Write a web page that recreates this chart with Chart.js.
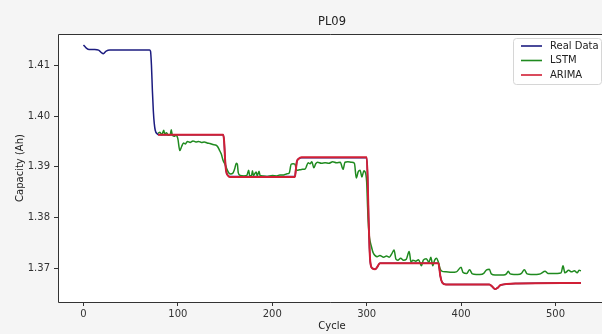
<!DOCTYPE html>
<html>
<head>
<meta charset="utf-8">
<script src="https://cdn.jsdelivr.net/npm/chart.js@4.4.1/dist/chart.umd.min.js"></script>
<style>
  html, body { margin: 0; padding: 0; background: #f5f5f5; overflow: hidden; }
  #wrap { width: 602px; height: 334px; }
</style>
</head>
<body>
<div id="wrap"><canvas id="grafico" width="602" height="334"></canvas></div>
<script>
// Real Data (capacidade medida)
const realCycles = [0, 3, 6, 12, 16, 19, 21, 24, 28, 40, 55, 70, 71, 72, 73, 74, 75, 76, 78, 80,
  148, 149, 150, 151, 153, 155, 224, 225, 226, 228, 231, 300, 301, 302, 303, 304, 306, 309, 311, 314,
  376, 377, 378, 380, 384, 430, 433, 436, 439, 442, 460, 527];
const realValues = [1.4140, 1.4134, 1.4131, 1.4131, 1.4130, 1.4125, 1.4123, 1.4128, 1.4130, 1.4130, 1.4130, 1.4130, 1.4128, 1.4100, 1.4050, 1.4010, 1.3985, 1.3972, 1.3965, 1.3963,
  1.3963, 1.3950, 1.3915, 1.3893, 1.3883, 1.3881, 1.3881, 1.3895, 1.3910, 1.3916, 1.3918, 1.3918, 1.3880, 1.3800, 1.3740, 1.3710, 1.3700, 1.3698, 1.3702, 1.3710,
  1.3710, 1.3700, 1.3685, 1.3672, 1.3668, 1.3668, 1.3664, 1.3659, 1.3662, 1.3667, 1.3670, 1.3671];

// LSTM
const lstmCycles = [79, 81, 83, 85, 86, 88, 90, 92, 93, 94, 96, 98, 100, 102, 104, 106, 108, 110, 113, 116,
  119, 122, 125, 128, 131, 134, 137, 140, 142, 144, 146, 148, 150, 152, 154, 156, 158, 160, 162, 163,
  164, 166, 170, 173, 175, 176, 178, 179, 180, 183, 184, 186, 187, 190, 195, 200, 205, 208, 212, 215,
  218, 220, 222, 224, 226, 229, 232, 235, 238, 240, 242, 244, 246, 248, 252, 256, 260, 264, 268, 272,
  275, 277, 280, 284, 287, 289, 291, 293, 295, 297, 298, 300, 301, 302, 303, 305, 307, 309, 311, 314,
  318, 321, 324, 327, 329, 331, 333, 336, 339, 342, 345, 347, 349, 352, 355, 358, 360, 363, 366, 368,
  370, 372, 374, 376, 378, 380, 384, 390, 395, 400, 402, 406, 409, 412, 416, 420, 424, 427, 430, 432,
  436, 440, 445, 448, 450, 452, 456, 460, 464, 467, 470, 474, 480, 484, 489, 492, 497, 502, 506, 508,
  510, 514, 517, 520, 523, 525, 527];
const lstmValues = [1.3966, 1.3968, 1.3963, 1.3972, 1.3965, 1.3967, 1.3962, 1.3964, 1.3973, 1.3963, 1.3960, 1.3962, 1.3955, 1.3932, 1.3940, 1.3947, 1.3945, 1.3950, 1.3948, 1.3951,
  1.3949, 1.3950, 1.3948, 1.3949, 1.3947, 1.3946, 1.3944, 1.3943, 1.3940, 1.3933, 1.3925, 1.3912, 1.3905, 1.3895, 1.3888, 1.3886, 1.3887, 1.3895, 1.3907, 1.3905,
  1.3888, 1.3883, 1.3882, 1.3883, 1.3893, 1.3883, 1.3882, 1.3892, 1.3883, 1.3890, 1.3882, 1.3891, 1.3883, 1.3882, 1.3881, 1.3883, 1.3882, 1.3884, 1.3884, 1.3886,
  1.3888, 1.3905, 1.3906, 1.3905, 1.3893, 1.3894, 1.3895, 1.3896, 1.3908, 1.3906, 1.3910, 1.3898, 1.3906, 1.3909, 1.3907, 1.3908, 1.3907, 1.3910, 1.3908, 1.3909,
  1.3895, 1.3909, 1.3910, 1.3909, 1.3907, 1.3878, 1.3890, 1.3893, 1.3880, 1.3892, 1.3891, 1.3870, 1.3820, 1.3780, 1.3760, 1.3743, 1.3730, 1.3725, 1.3723, 1.3725,
  1.3722, 1.3724, 1.3722, 1.3730, 1.3736, 1.3718, 1.3716, 1.3720, 1.3716, 1.3718, 1.3733, 1.3712, 1.3716, 1.3714, 1.3717, 1.3705, 1.3716, 1.3719, 1.3712, 1.3722,
  1.3705, 1.3716, 1.3720, 1.3712, 1.3698, 1.3694, 1.3693, 1.3692, 1.3693, 1.3702, 1.3692, 1.3690, 1.3697, 1.3689, 1.3688, 1.3688, 1.3690, 1.3697, 1.3698, 1.3689,
  1.3687, 1.3687, 1.3687, 1.3689, 1.3694, 1.3689, 1.3688, 1.3688, 1.3690, 1.3697, 1.3689, 1.3688, 1.3688, 1.3689, 1.3694, 1.3690, 1.3690, 1.3690, 1.3691, 1.3705,
  1.3691, 1.3696, 1.3693, 1.3695, 1.3691, 1.3696, 1.3695];

// ARIMA
const arimaCycles = [79, 148, 149, 150, 151, 153, 155, 224, 225, 226, 228, 231, 300, 301, 302, 303, 304, 306, 309, 311,
  314, 376, 377, 378, 380, 384, 430, 433, 436, 439, 442, 460, 527];
const arimaValues = [1.3963, 1.3963, 1.3950, 1.3915, 1.3893, 1.3883, 1.3880, 1.3880, 1.3895, 1.3910, 1.3916, 1.3919, 1.3919, 1.3880, 1.3800, 1.3740, 1.3710, 1.3700, 1.3698, 1.3702,
  1.3710, 1.3710, 1.3700, 1.3685, 1.3672, 1.3668, 1.3668, 1.3664, 1.3659, 1.3662, 1.3667, 1.3670, 1.3671];

const xTicks = [0, 100, 200, 300, 400, 500];
const yTicks = [1.37, 1.38, 1.39, 1.40, 1.41];
const seriesNames = ['Real Data', 'LSTM', 'ARIMA'];
const seriesColors = ['#1c1c80', '#1f8a1f', '#d11f35'];

const FONT = 'DejaVu Sans';

function pares(xs, ys) {
  return xs.map((x, i) => ({ x: x, y: ys[i] }));
}

// Fundo, bordas, título, rótulos e legenda desenhados à mão
const decoracao = {
  id: 'decoracao',
  beforeDraw(chart) {
    const { ctx, chartArea: a } = chart;
    ctx.save();
    ctx.fillStyle = '#f5f5f5';
    ctx.fillRect(0, 0, chart.width, chart.height);
    ctx.fillStyle = '#ffffff';
    ctx.fillRect(a.left, a.top, a.right - a.left, a.bottom - a.top);
    ctx.restore();
  },
  afterDraw(chart) {
    const { ctx, chartArea: a } = chart;
    ctx.save();
    // bordas
    ctx.strokeStyle = '#333333';
    ctx.lineWidth = 1;
    ctx.beginPath();
    ctx.moveTo(a.right, a.top + 0.5);
    ctx.lineTo(a.left + 0.5, a.top + 0.5);
    ctx.lineTo(a.left + 0.5, a.bottom + 0.5);
    ctx.lineTo(a.right, a.bottom + 0.5);
    ctx.stroke();

    // título
    ctx.fillStyle = '#222';
    ctx.font = '11.5px "' + FONT + '"';
    ctx.textAlign = 'center';
    ctx.textBaseline = 'middle';
    ctx.fillText('PL09', 332, 22);

    // rótulos dos eixos
    ctx.font = '10px "' + FONT + '"';
    ctx.fillText('Cycle', 332, 326);
    ctx.save();
    ctx.translate(20, 168);
    ctx.rotate(-Math.PI / 2);
    ctx.fillText('Capacity (Ah)', 0, 0);
    ctx.restore();

    // legenda
    const bx = 513, by = 38, bw = 88, bh = 46;
    ctx.fillStyle = 'rgba(255,255,255,0.85)';
    ctx.strokeStyle = '#d6d6d6';
    ctx.beginPath();
    ctx.roundRect(bx + 0.5, by + 0.5, bw, bh, 3);
    ctx.fill();
    ctx.stroke();
    ctx.font = '10px "' + FONT + '"';
    ctx.textAlign = 'left';
    seriesNames.forEach((nome, i) => {
      const y = 46 + i * 14.5;
      ctx.strokeStyle = seriesColors[i];
      ctx.lineWidth = 1.6;
      ctx.beginPath();
      ctx.moveTo(521, y);
      ctx.lineTo(542, y);
      ctx.stroke();
      ctx.fillStyle = '#222';
      ctx.fillText(nome, 550, y);
    });
    ctx.restore();
  }
};

const ctx = document.getElementById('grafico').getContext('2d');
const grafico = new Chart(ctx, {
  type: 'line',
  data: {
    datasets: [
      { label: seriesNames[0], data: pares(realCycles, realValues), borderColor: seriesColors[0], borderWidth: 1.5, order: 3 },
      { label: seriesNames[1], data: pares(lstmCycles, lstmValues), borderColor: seriesColors[1], borderWidth: 1.5, order: 2 },
      { label: seriesNames[2], data: pares(arimaCycles, arimaValues), borderColor: seriesColors[2], borderWidth: 2, order: 1 }
    ]
  },
  options: {
    responsive: false,
    animation: false,
    elements: { point: { radius: 0 }, line: { cubicInterpolationMode: 'monotone', fill: false } },
    layout: { padding: { top: 34, right: 0, left: 0, bottom: 0 } },
    plugins: { legend: { display: false }, title: { display: false }, tooltip: { enabled: false } },
    scales: {
      x: {
        type: 'linear',
        min: -27,
        max: 549.3,
        afterFit: (s) => { s.height = 32; },
        afterBuildTicks: (s) => { s.ticks = xTicks.map(v => ({ value: v })); },
        grid: { drawOnChartArea: false, tickLength: 4, tickColor: '#333', drawTicks: true },
        border: { display: false },
        ticks: { color: '#333', font: { family: FONT, size: 10 }, padding: 2, maxRotation: 0 }
      },
      y: {
        type: 'linear',
        min: 1.36336,
        max: 1.41617,
        afterFit: (s) => { s.width = 58; },
        afterBuildTicks: (s) => { s.ticks = yTicks.map(v => ({ value: v })); },
        grid: { drawOnChartArea: false, tickLength: 4, tickColor: '#333', drawTicks: true },
        border: { display: false },
        ticks: { color: '#333', font: { family: FONT, size: 10 }, padding: 4, callback: v => v.toFixed(2) }
      }
    }
  },
  plugins: [decoracao]
});
</script>
</body>
</html>
